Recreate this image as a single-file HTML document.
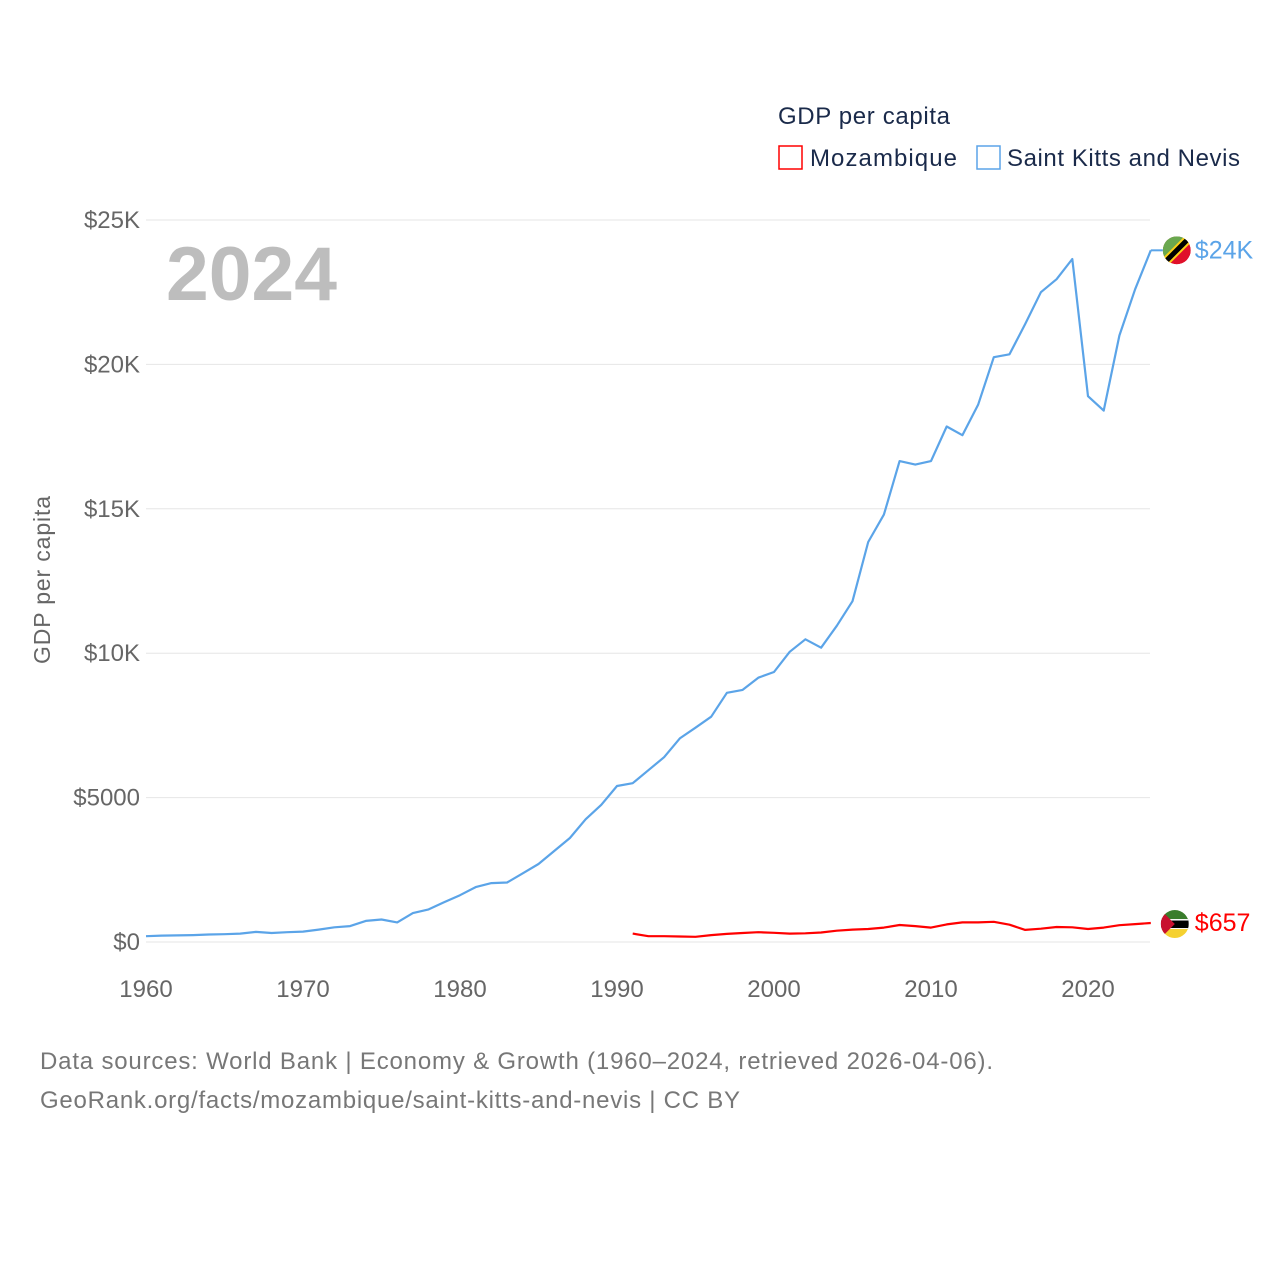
<!DOCTYPE html>
<html><head><meta charset="utf-8"><style>
body{margin:0;background:#fff;}
svg{display:block;font-family:"Liberation Sans",sans-serif;}
</style></head><body>
<svg id="chart" width="1280" height="1280" viewBox="0 0 1280 1280">
<rect width="1280" height="1280" fill="#fff"/>
<g id="grid"></g>
<g id="yticks"></g>
<g id="xticks"></g>
<text x="166" y="300" font-size="76" font-weight="bold" fill="#bdbdbd" textLength="171" lengthAdjust="spacingAndGlyphs">2024</text>
<text transform="translate(50,580) rotate(-90)" font-size="23" fill="#666" text-anchor="middle" textLength="168">GDP per capita</text>
<text x="778" y="124" font-size="24" fill="#1a2a4a" textLength="172">GDP per capita</text>
<g>
<rect x="779" y="146" width="23" height="23" fill="none" stroke="#f00" stroke-width="1.5"/>
<text x="810" y="166" font-size="24" fill="#1a2a4a" textLength="147">Mozambique</text></g>
<g>
<rect x="977" y="146" width="23" height="23" fill="none" stroke="#5ba4e8" stroke-width="1.5"/>
<text x="1007" y="166" font-size="24" fill="#1a2a4a" textLength="233">Saint Kitts and Nevis</text></g>
<g id="series"></g>
<text x="40" y="1069" font-size="24" fill="#777" textLength="953">Data sources: World Bank | Economy &amp; Growth (1960–2024, retrieved 2026-04-06).</text>
<text x="40" y="1108" font-size="24" fill="#777" textLength="700">GeoRank.org/facts/mozambique/saint-kitts-and-nevis | CC BY</text>
</svg>
<script>
const kittsYears = [1960,1961,1962,1963,1964,1965,1966,1967,1968,1969,1970,1971,1972,1973,1974,1975,1976,1977,1978,1979,1980,1981,1982,1983,1984,1985,1986,1987,1988,1989,1990,1991,1992,1993,1994,1995,1996,1997,1998,1999,2000,2001,2002,2003,2004,2005,2006,2007,2008,2009,2010,2011,2012,2013,2014,2015,2016,2017,2018,2019,2020,2021,2022,2023,2024];
const kittsValues = [200,220,230,240,260,270,290,350,310,340,360,430,510,550,730,780,680,1000,1130,1380,1620,1900,2040,2060,2380,2700,3150,3600,4250,4750,5400,5500,5950,6400,7050,7420,7800,8630,8730,9150,9350,10050,10480,10190,10950,11800,13850,14800,16650,16530,16650,17850,17550,18600,20250,20350,21400,22500,22950,23650,18900,18400,21000,22600,23950];
const mozYears = [1991,1992,1993,1994,1995,1996,1997,1998,1999,2000,2001,2002,2003,2004,2005,2006,2007,2008,2009,2010,2011,2012,2013,2014,2015,2016,2017,2018,2019,2020,2021,2022,2023,2024];
const mozValues = [290,200,200,190,180,240,280,310,340,320,290,300,330,390,430,450,500,590,550,500,610,680,680,700,600,420,460,520,510,450,500,580,620,657];
const yTicks = [0,5000,10000,15000,20000,25000];
const yTickLabels = ["$0","$5000","$10K","$15K","$20K","$25K"];
const xTicks = [1960,1970,1980,1990,2000,2010,2020];

const NS="http://www.w3.org/2000/svg";
const x = yr => 146 + (yr-1960)*(942/60);
const y = v => 942 - v*722/25000;
function mk(tag, attrs, parent){const e=document.createElementNS(NS,tag);for(const k in attrs)e.setAttribute(k,attrs[k]);parent.appendChild(e);return e;}

const grid=document.getElementById('grid'), yt=document.getElementById('yticks'), xt=document.getElementById('xticks'), ser=document.getElementById('series');
yTicks.forEach((v,i)=>{
  const l=mk('line',{x1:146,x2:1150,y1:y(v),y2:y(v),stroke:'#e6e6e6','stroke-width':1},grid);
  
  
  const t=mk('text',{x:140,y:y(v)+8,'font-size':24,fill:'#666','text-anchor':'end'},yt);
  t.textContent=yTickLabels[i];
  
  
});
xTicks.forEach(v=>{
  const t=mk('text',{x:x(v),y:997,'font-size':24,fill:'#666','text-anchor':'middle'},xt);
  t.textContent=v;
  
  
});
function line(years, vals, color, name){
  const d=years.map((yr,i)=>(i?'L':'M')+x(yr).toFixed(1)+','+y(vals[i]).toFixed(1)).join('');
  const p=mk('path',{d:d,fill:'none',stroke:color,'stroke-width':2.2,'stroke-linejoin':'round'},ser);
  
  
}
line(kittsYears,kittsValues,'#5ba4e8','line-saint-kitts');
line(mozYears,mozValues,'#ff0000','line-mozambique');

const kx=x(2024), ky=y(kittsValues[kittsValues.length-1]);
mk('line',{x1:kx,x2:kx+12,y1:ky,y2:ky,stroke:'#5ba4e8','stroke-width':2},ser);
const kf=mk('g',{},ser);


const ck=mk('clipPath',{id:'ck'},kf);mk('circle',{cx:kx+26,cy:ky,r:14},ck);
const kg=mk('g',{'clip-path':'url(#ck)'},kf);
mk('circle',{cx:kx+26,cy:ky,r:14,fill:'#e0102a'},kg);
mk('path',{d:`M${kx+12},${ky+14}L${kx+12},${ky-14}L${kx+40},${ky-14}Z`,fill:'#6aa84f'},kg);
mk('line',{x1:kx+14,y1:ky+12,x2:kx+38,y2:ky-12,stroke:'#fcd116','stroke-width':9},kg);
mk('line',{x1:kx+14,y1:ky+12,x2:kx+38,y2:ky-12,stroke:'#000','stroke-width':5},kg);
const kl=mk('text',{x:kx+44,y:ky+8,'font-size':25,fill:'#5ba4e8'},ser);
kl.textContent='$24K';



const mx=x(2024), my=y(mozValues[mozValues.length-1]);
const mf=mk('g',{},ser);


const cp=mk('clipPath',{id:'cm'},mf);mk('circle',{cx:mx+24,cy:my+1,r:14},cp);
const mg=mk('g',{'clip-path':'url(#cm)'},mf);
mk('rect',{x:mx+10,y:my-13,width:28,height:9,fill:'#3a7d2c'},mg);
mk('rect',{x:mx+10,y:my-4,width:28,height:10,fill:'#000'},mg);
mk('rect',{x:mx+10,y:my-4,width:28,height:1.5,fill:'#fff'},mg);
mk('rect',{x:mx+10,y:my+5,width:28,height:1.5,fill:'#fff'},mg);
mk('rect',{x:mx+10,y:my+6,width:28,height:10,fill:'#f5d130'},mg);
mk('path',{d:`M${mx+10},${my-13}L${mx+24},${my+1}L${mx+10},${my+15}Z`,fill:'#c8102e'},mg);
const ml=mk('text',{x:mx+44,y:my+8,'font-size':25,fill:'#ff0000'},ser);
ml.textContent='$657';


</script>
</body></html>
